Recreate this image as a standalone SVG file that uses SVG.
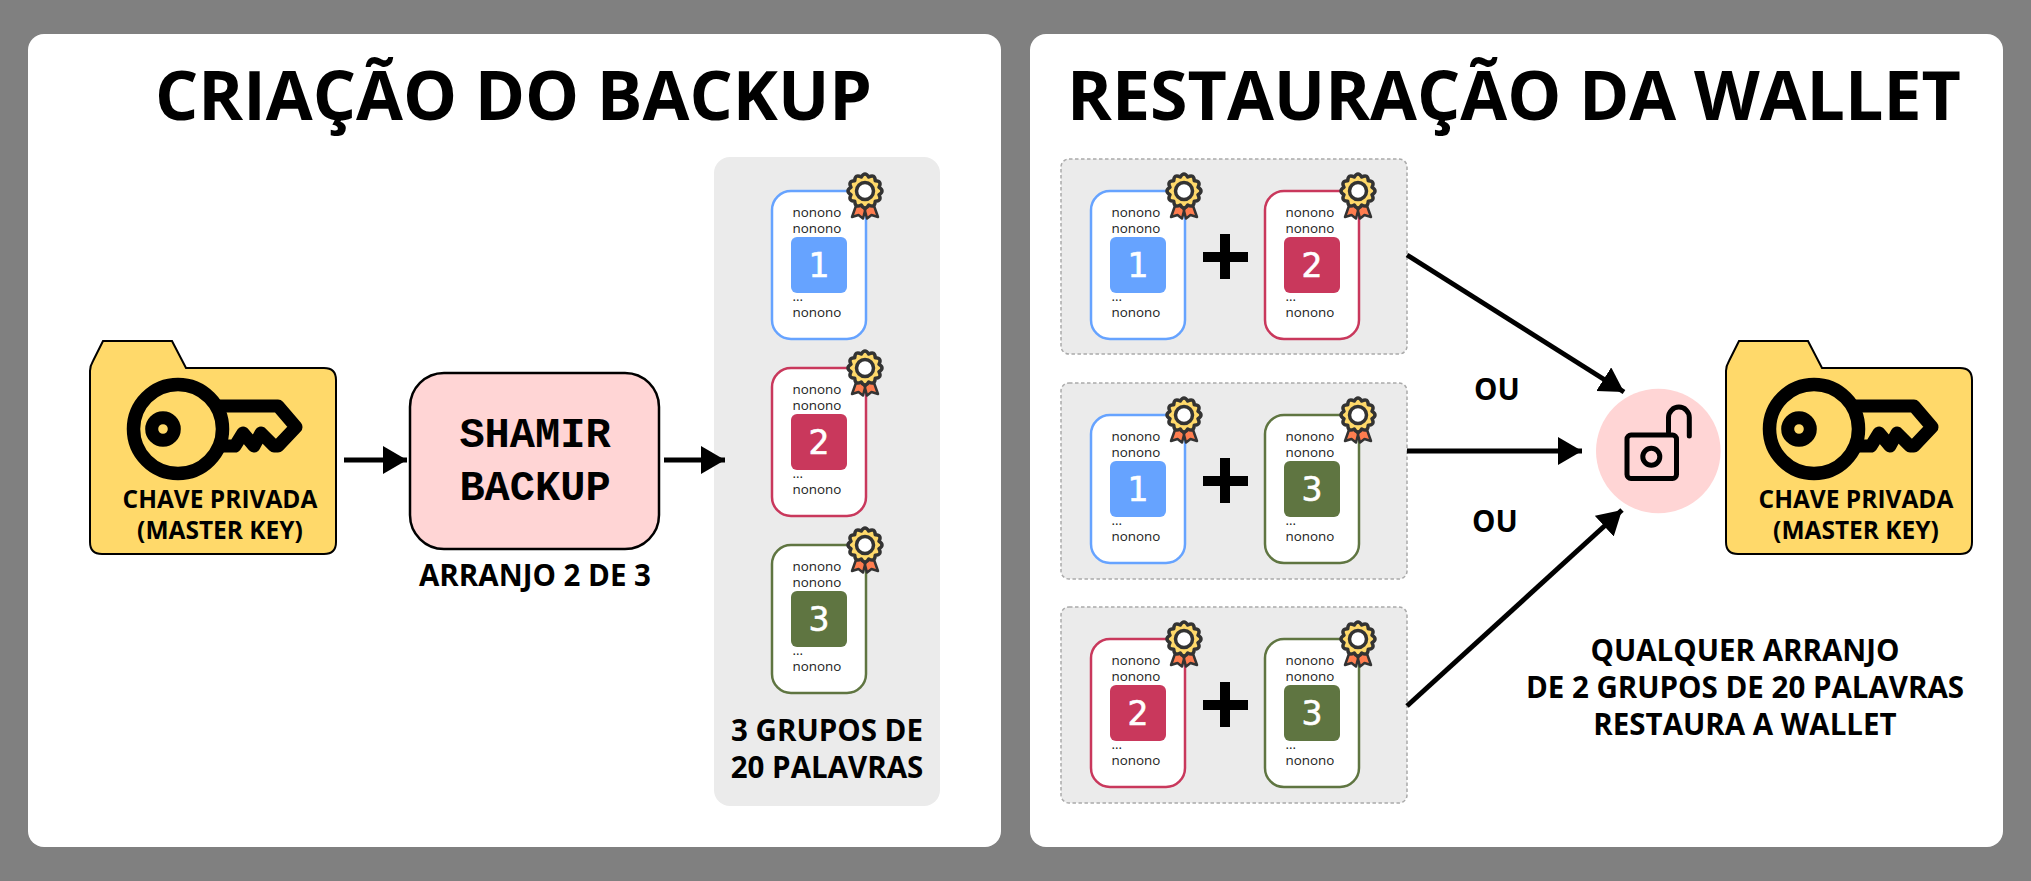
<svg xmlns="http://www.w3.org/2000/svg" width="2031" height="881" viewBox="0 0 2031 881">
<style>
text{font-family:"Open Sans","Noto Sans",sans-serif;text-anchor:middle;fill:#000}
.title{font-size:68px;font-weight:700}
.lbl{font-size:29.500px;font-weight:700}
.fl{font-size:24.500px;font-weight:700}
.mono{font-family:"Liberation Mono",monospace;font-size:42px;font-weight:700}
.w{font-size:13.400px;text-anchor:start;fill:#222}
.n{font-family:"DejaVu Sans",sans-serif;font-size:33px;fill:#fff;stroke:#fff;stroke-width:.6}
.card{fill:#fff;stroke-width:2.500}
.grp{fill:#ebebeb;stroke:#aaa;stroke-width:1.500;stroke-dasharray:3.500 2.500}
.conn{stroke:#000;stroke-width:5;fill:none;marker-end:url(#a)}
.plus{stroke:#000;stroke-width:10;fill:none}
</style>
<defs>
<marker id="a" markerUnits="userSpaceOnUse" markerWidth="30" markerHeight="30" refX="24" refY="14" orient="auto"><path d="M0 0L24 14L0 28Z" fill="#000"/></marker>
<g id="badge">
<path d="M-8 12L-13 26L-6.500 24L-2 27.500L1 16ZM8 12L13 26L6.500 24L2 27.500L-1 16Z" fill="#ff7d4f" stroke="#333" stroke-width="2.500" stroke-linejoin="round"/>
<path d="M14-3.750Q20 0 14 3.750Q17.300 10 10.250 10.250Q10 17.300 3.750 14Q0 20-3.750 14Q-10 17.300-10.250 10.250Q-17.300 10-14 3.750Q-20 0-14-3.750Q-17.300-10-10.250-10.250Q-10-17.300-3.750-14Q0-20 3.750-14Q10-17.300 10.250-10.250Q17.300-10 14-3.750Z" fill="#ffd96a" stroke="#333" stroke-width="3.500" stroke-linejoin="round"/>
<circle r="8.500" fill="#fff" stroke="#333" stroke-width="3.500"/>
</g>
<g id="folder">
<path d="M13 0H82L96 27H234Q246 27 246 39V201Q246 213 234 213H12Q0 213 0 201V30Q0 25 3 20Z" fill="#ffd96a" stroke="#000" stroke-width="2"/>
<circle cx="88" cy="88" r="44.500" fill="none" stroke="#000" stroke-width="13.500"/>
<circle cx="73" cy="88" r="11.300" fill="none" stroke="#000" stroke-width="13"/>
<path d="M132 105H145L153 92L164 105L171 92L184 105H188L206 86L188 65H130" fill="none" stroke="#000" stroke-width="13" stroke-linejoin="round" stroke-linecap="round"/>
</g>
</defs>
<rect width="2031" height="881" fill="#808080"/>
<rect x="28" y="34" width="973" height="813" rx="16" fill="#fff"/>
<rect x="1030" y="34" width="973" height="813" rx="16" fill="#fff"/>
<rect x="714" y="157" width="226" height="649" rx="16" fill="#ebebeb"/>
<text class="title" x="513.500" y="120">CRIAÇÃO DO BACKUP</text>
<text class="title" x="1514" y="120">RESTAURAÇÃO DA WALLET</text>

<g id="folder-1" transform="translate(90,341)"><use href="#folder"/>
<text class="fl" x="130" y="167">CHAVE PRIVADA</text><text class="fl" x="130" y="197.500">(MASTER KEY)</text></g>
<g id="folder-2" transform="translate(1726,341)"><use href="#folder"/>
<text class="fl" x="130" y="167">CHAVE PRIVADA</text><text class="fl" x="130" y="197.500">(MASTER KEY)</text></g>

<g id="shamir"><rect x="410" y="373" width="249" height="176" rx="34" fill="#ffd5d5" stroke="#000" stroke-width="2.500"/>
<text class="mono" x="535" y="447">SHAMIR</text><text class="mono" x="535" y="500">BACKUP</text>
</g>
<text class="lbl" x="535" y="586">ARRANJO 2 DE 3</text>
<text class="lbl" x="827" y="741">3 GRUPOS DE</text><text class="lbl" x="827" y="778">20 PALAVRAS</text>

<rect class="grp" x="1061" y="159" width="346" height="195" rx="8"/>
<rect class="grp" x="1061" y="383" width="346" height="196" rx="8"/>
<rect class="grp" x="1061" y="607" width="346" height="196" rx="8"/>

<g id="cards-left">
<g id="c1" transform="translate(772,191)"><rect class="card" width="94" height="148" rx="19" stroke="#66a3ff"/><text class="w" x="20.500" y="26">nonono</text><text class="w" x="20.500" y="42">nonono</text><rect x="19" y="46" width="56" height="56" rx="6" fill="#66a3ff"/><text class="n" x="47" y="86">1</text><text class="w" x="20.500" y="110">...</text><text class="w" x="20.500" y="126">nonono</text><use href="#badge" x="93" y="0"/></g>
<g id="c2" transform="translate(772,368)"><rect class="card" width="94" height="148" rx="19" stroke="#c9385c"/><text class="w" x="20.500" y="26">nonono</text><text class="w" x="20.500" y="42">nonono</text><rect x="19" y="46" width="56" height="56" rx="6" fill="#c9385c"/><text class="n" x="47" y="86">2</text><text class="w" x="20.500" y="110">...</text><text class="w" x="20.500" y="126">nonono</text><use href="#badge" x="93" y="0"/></g>
<g id="c3" transform="translate(772,545)"><rect class="card" width="94" height="148" rx="19" stroke="#5f7541"/><text class="w" x="20.500" y="26">nonono</text><text class="w" x="20.500" y="42">nonono</text><rect x="19" y="46" width="56" height="56" rx="6" fill="#5f7541"/><text class="n" x="47" y="86">3</text><text class="w" x="20.500" y="110">...</text><text class="w" x="20.500" y="126">nonono</text><use href="#badge" x="93" y="0"/></g>
</g>
<g id="cards-right">
<g id="r1a" transform="translate(1091,191)"><rect class="card" width="94" height="148" rx="19" stroke="#66a3ff"/><text class="w" x="20.500" y="26">nonono</text><text class="w" x="20.500" y="42">nonono</text><rect x="19" y="46" width="56" height="56" rx="6" fill="#66a3ff"/><text class="n" x="47" y="86">1</text><text class="w" x="20.500" y="110">...</text><text class="w" x="20.500" y="126">nonono</text><use href="#badge" x="93" y="0"/></g>
<g id="r1b" transform="translate(1265,191)"><rect class="card" width="94" height="148" rx="19" stroke="#c9385c"/><text class="w" x="20.500" y="26">nonono</text><text class="w" x="20.500" y="42">nonono</text><rect x="19" y="46" width="56" height="56" rx="6" fill="#c9385c"/><text class="n" x="47" y="86">2</text><text class="w" x="20.500" y="110">...</text><text class="w" x="20.500" y="126">nonono</text><use href="#badge" x="93" y="0"/></g>
<g id="r2a" transform="translate(1091,415)"><rect class="card" width="94" height="148" rx="19" stroke="#66a3ff"/><text class="w" x="20.500" y="26">nonono</text><text class="w" x="20.500" y="42">nonono</text><rect x="19" y="46" width="56" height="56" rx="6" fill="#66a3ff"/><text class="n" x="47" y="86">1</text><text class="w" x="20.500" y="110">...</text><text class="w" x="20.500" y="126">nonono</text><use href="#badge" x="93" y="0"/></g>
<g id="r2b" transform="translate(1265,415)"><rect class="card" width="94" height="148" rx="19" stroke="#5f7541"/><text class="w" x="20.500" y="26">nonono</text><text class="w" x="20.500" y="42">nonono</text><rect x="19" y="46" width="56" height="56" rx="6" fill="#5f7541"/><text class="n" x="47" y="86">3</text><text class="w" x="20.500" y="110">...</text><text class="w" x="20.500" y="126">nonono</text><use href="#badge" x="93" y="0"/></g>
<g id="r3a" transform="translate(1091,639)"><rect class="card" width="94" height="148" rx="19" stroke="#c9385c"/><text class="w" x="20.500" y="26">nonono</text><text class="w" x="20.500" y="42">nonono</text><rect x="19" y="46" width="56" height="56" rx="6" fill="#c9385c"/><text class="n" x="47" y="86">2</text><text class="w" x="20.500" y="110">...</text><text class="w" x="20.500" y="126">nonono</text><use href="#badge" x="93" y="0"/></g>
<g id="r3b" transform="translate(1265,639)"><rect class="card" width="94" height="148" rx="19" stroke="#5f7541"/><text class="w" x="20.500" y="26">nonono</text><text class="w" x="20.500" y="42">nonono</text><rect x="19" y="46" width="56" height="56" rx="6" fill="#5f7541"/><text class="n" x="47" y="86">3</text><text class="w" x="20.500" y="110">...</text><text class="w" x="20.500" y="126">nonono</text><use href="#badge" x="93" y="0"/></g>
</g>
<path class="plus" d="M1225 234V279M1203 257H1248M1225 458V503M1203 481H1248M1225 682V727M1203 705H1248"/>

<g id="unlock"><circle cx="1658.300" cy="451" r="62.300" fill="#ffd5d5"/>
<rect x="1627" y="435" width="49.500" height="43.500" rx="4" fill="none" stroke="#000" stroke-width="5"/><circle cx="1651.300" cy="456.700" r="8.500" fill="none" stroke="#000" stroke-width="5"/><path d="M1668.500 432V417.500A10.400 10.400 0 0 1 1689.300 417.500V436" fill="none" stroke="#000" stroke-width="5" stroke-linecap="round"/></g>

<g id="connectors">
<path class="conn" d="M344 460H407"/>
<path class="conn" d="M664 460H725"/>
<path class="conn" d="M1407 255L1624 392"/>
<path class="conn" d="M1407 451H1582"/>
<path class="conn" d="M1407 706L1622 510"/>
</g>
<text class="lbl" x="1497" y="400">OU</text>
<text class="lbl" x="1495" y="532">OU</text>
<text class="lbl" x="1745" y="661">QUALQUER ARRANJO</text>
<text class="lbl" x="1745" y="698">DE 2 GRUPOS DE 20 PALAVRAS</text>
<text class="lbl" x="1745" y="735">RESTAURA A WALLET</text>
</svg>
